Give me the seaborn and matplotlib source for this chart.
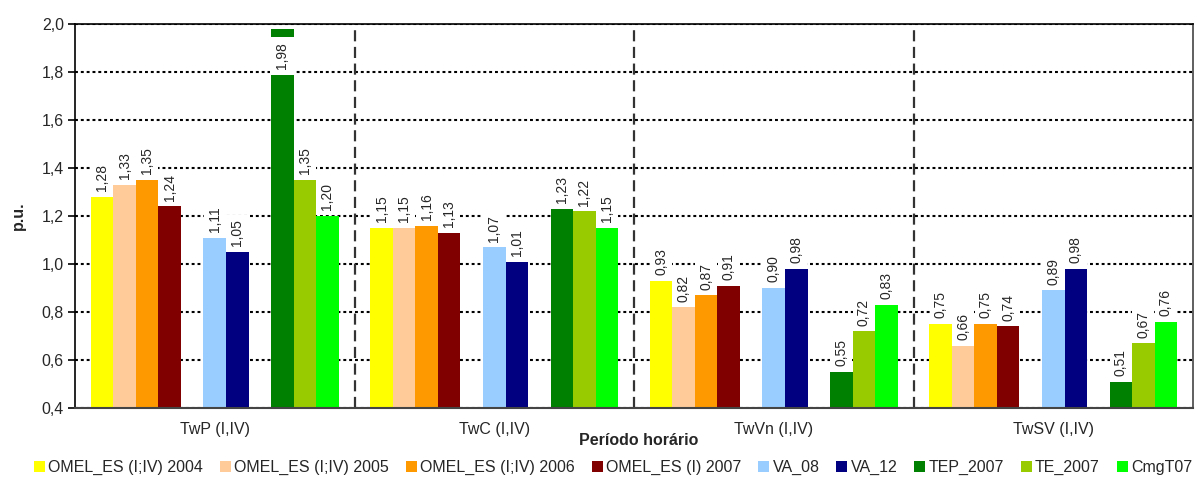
import numpy as np
import pandas as pd
import matplotlib
matplotlib.use("Agg")
import matplotlib.pyplot as plt
from matplotlib.patches import Patch
import seaborn as sns

# Hourly periods (x categories)
periods = ["TwP (I,IV)", "TwC (I,IV)", "TwVn (I,IV)", "TwSV (I,IV)"]

# Series names, in drawing order
series = ["OMEL_ES (I;IV) 2004", "OMEL_ES (I;IV) 2005", "OMEL_ES (I;IV) 2006",
          "OMEL_ES (I) 2007", "VA_08", "VA_12", "TEP_2007", "TE_2007", "CmgT07"]

# Values per series (p.u.), one per period
omel_2004 = [1.28, 1.15, 0.93, 0.75]
omel_2005 = [1.33, 1.15, 0.82, 0.66]
omel_2006 = [1.35, 1.16, 0.87, 0.75]
omel_2007 = [1.24, 1.13, 0.91, 0.74]
va_08 = [1.11, 1.07, 0.90, 0.89]
va_12 = [1.05, 1.01, 0.98, 0.98]
tep_2007 = [1.98, 1.23, 0.55, 0.51]
te_2007 = [1.35, 1.22, 0.72, 0.67]
cmg_t07 = [1.20, 1.15, 0.83, 0.76]

values = [omel_2004, omel_2005, omel_2006, omel_2007, va_08, va_12,
          tep_2007, te_2007, cmg_t07]

colors = ["#FFFF00", "#FFCC99", "#FF9900", "#800000", "#99CCFF", "#000080",
          "#008000", "#99CC00", "#00FF00"]

y_ticks = [0.4, 0.6, 0.8, 1.0, 1.2, 1.4, 1.6, 1.8, 2.0]

# Empty slots separate the three families of series inside each period
gap_a, gap_b = "_gap_a", "_gap_b"
slot_order = series[:4] + [gap_a] + series[4:6] + [gap_b] + series[6:]

rows = []
for name, vals in zip(series, values):
    for per, v in zip(periods, vals):
        rows.append({"periodo": per, "serie": name, "valor": v})
df = pd.DataFrame(rows)

palette = dict(zip(series, colors))
palette[gap_a] = "white"
palette[gap_b] = "white"

sns.set_style("white")
plt.rcParams["font.family"] = ["Liberation Sans", "DejaVu Sans"]

FS = 11.5

fig = plt.figure(figsize=(11.95, 4.8), dpi=100)
ax = fig.add_axes([75 / 1195, 1 - 408 / 480, 1118 / 1195, 384 / 480])

sns.barplot(data=df, x="periodo", y="valor", hue="serie", order=periods,
            hue_order=slot_order, palette=palette, width=0.886,
            errorbar=None, legend=False, saturation=1, linewidth=0, ax=ax)

ymin, ymax = 0.4, 2.0
ax.set_ylim(ymin, ymax)
ax.set_xlim(-0.5, len(periods) - 0.5)

# Value labels on white boxes above each bar
for p in ax.patches:
    h = p.get_height()
    if not np.isfinite(h) or p.get_width() == 0:
        continue
    xc = p.get_x() + p.get_width() / 2
    txt = f"{h:.2f}".replace(".", ",")
    if h > ymax - 0.15:
        # no room above the top of the axis: put the label inside the bar end
        ax.annotate(txt, (xc, h), xytext=(0, -9.9), textcoords="offset points",
                    rotation=90, ha="center", va="top", fontsize=10,
                    zorder=4,
                    bbox=dict(boxstyle="square,pad=0.38", fc="white", ec="none"))
    else:
        ax.annotate(txt, (xc, h), xytext=(0, 4), textcoords="offset points",
                    rotation=90, ha="center", va="bottom", fontsize=10,
                    zorder=4,
                    bbox=dict(boxstyle="square,pad=0.3", fc="white", ec="none"))

# Dotted horizontal grid
ax.set_yticks(y_ticks)
ax.set_yticklabels([f"{t:.1f}".replace(".", ",") for t in y_ticks], fontsize=FS)
ax.yaxis.grid(True, color="black", linewidth=1.5, linestyle=(0, (1.4, 1.4)))
ax.set_axisbelow(True)

# Dashed separators between periods
for xb in np.arange(0.5, len(periods) - 0.5, 1.0):
    ax.axvline(xb, color="#333333", linewidth=1.6, linestyle=(0, (5, 2.5)),
               zorder=1.5)

# Axes frame and ticks
for side in ["left", "top"]:
    ax.spines[side].set_color("black")
    ax.spines[side].set_linewidth(1.2)
ax.spines["right"].set_color("#444444")
ax.spines["right"].set_linewidth(1.2)
ax.spines["bottom"].set_color("#444444")
ax.spines["bottom"].set_linewidth(1.5)

ax.set_xticks(range(len(periods)))
ax.set_xticklabels(periods, fontsize=FS)
ax.set_xticks(np.arange(-0.5, len(periods), 1.0), minor=True)
ax.tick_params(axis="x", which="major", length=0, pad=10)
ax.tick_params(axis="x", which="minor", length=4, width=1.2, color="#444444",
               direction="out")
ax.tick_params(axis="y", length=5, width=1.2, color="black", direction="out",
               left=True, pad=3)

ax.set_xlabel("Período horário", fontsize=FS, fontweight="bold")
ax.xaxis.set_label_coords(0.504, -0.064)
ax.set_ylabel("p.u.", fontsize=FS, fontweight="bold")
ax.yaxis.set_label_coords(-0.044, 0.5)

handles = [Patch(facecolor=c, edgecolor="none") for c in colors]
fig.legend(handles, series, loc="center", bbox_to_anchor=(0.513, 0.026),
           ncol=len(series), frameon=False, fontsize=FS, handlelength=0.7,
           handleheight=0.7, handletextpad=0.2, columnspacing=1.05,
           borderaxespad=0, borderpad=0)

fig.savefig("out.png", dpi=100)
